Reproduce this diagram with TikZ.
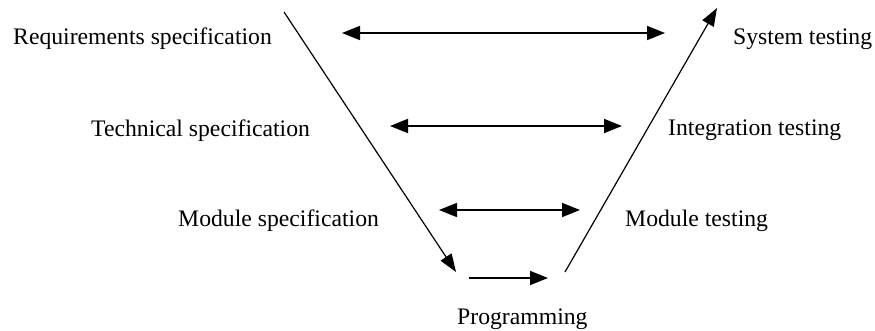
\documentclass[tikz,border=0pt]{standalone}
\usepackage{fontspec}
\setmainfont{Liberation Serif}
\usetikzlibrary{arrows.meta,positioning}

\begin{document}
\begin{tikzpicture}[
        % 像素坐标:1px = 1pt,y 轴向下
        x=1pt,
        y=-1pt,
        phase/.style={anchor=base west, inner sep=0pt, font=\fontsize{23.7}{28}\selectfont},
        % 箭头样式:实心三角
        flowArrow/.style={line width=1.2pt, -{Triangle[length=18pt, width=13pt]}},
        pairArrow/.style={line width=1.8pt, {Triangle[length=18pt, width=14pt]}-{Triangle[length=18pt, width=14pt]}},
        oneArrow/.style={line width=1.8pt, -{Triangle[length=18pt, width=14pt]}}
    ]

        % --- 画布范围 ---
        \useasboundingbox (0,0) rectangle (875,331);

        % --- 1. 左侧:规格说明 ---
        \node[phase] (req)  at (13,45)  {Requirements specification};
        \node[phase] (tech) at (91,137) {Technical specification};
        \node[phase] (mod)  at (178,226) {Module specification};

        % --- 2. 右侧:测试 ---
        \node[phase] (sys)  at (733,45)  {System testing};
        \node[phase] (intg) at (668,136) {Integration testing};
        \node[phase] (mtst) at (625,226) {Module testing};

        % --- 3. 底部:编程 ---
        \node[phase] (prog) at (457,324) {Programming};

        % --- 4. V 形两条斜线 ---
        \coordinate (downStart) at (284,12);
        \coordinate (downEnd)   at (456,272);
        \coordinate (upStart)   at (565,272);
        \coordinate (upEnd)     at (717,8);
        \draw[flowArrow] (downStart) -- (downEnd);
        \draw[flowArrow] (upStart) -- (upEnd);

        % --- 5. 对应关系的双向箭头 ---
        \foreach \row/\xa/\xb/\y in {sysLink/342/665/33, intgLink/390/622/126, modLink/439/580/210} {
            \coordinate (\row-a) at (\xa,\y);
            \coordinate (\row-b) at (\xb,\y);
            \draw[pairArrow] (\row-a) -- (\row-b);
        }

        % --- 6. 编程阶段的单向箭头 ---
        \coordinate (progA) at (469,278);
        \coordinate (progB) at (548,278);
        \draw[oneArrow] (progA) -- (progB);

    \end{tikzpicture}
\end{document}
